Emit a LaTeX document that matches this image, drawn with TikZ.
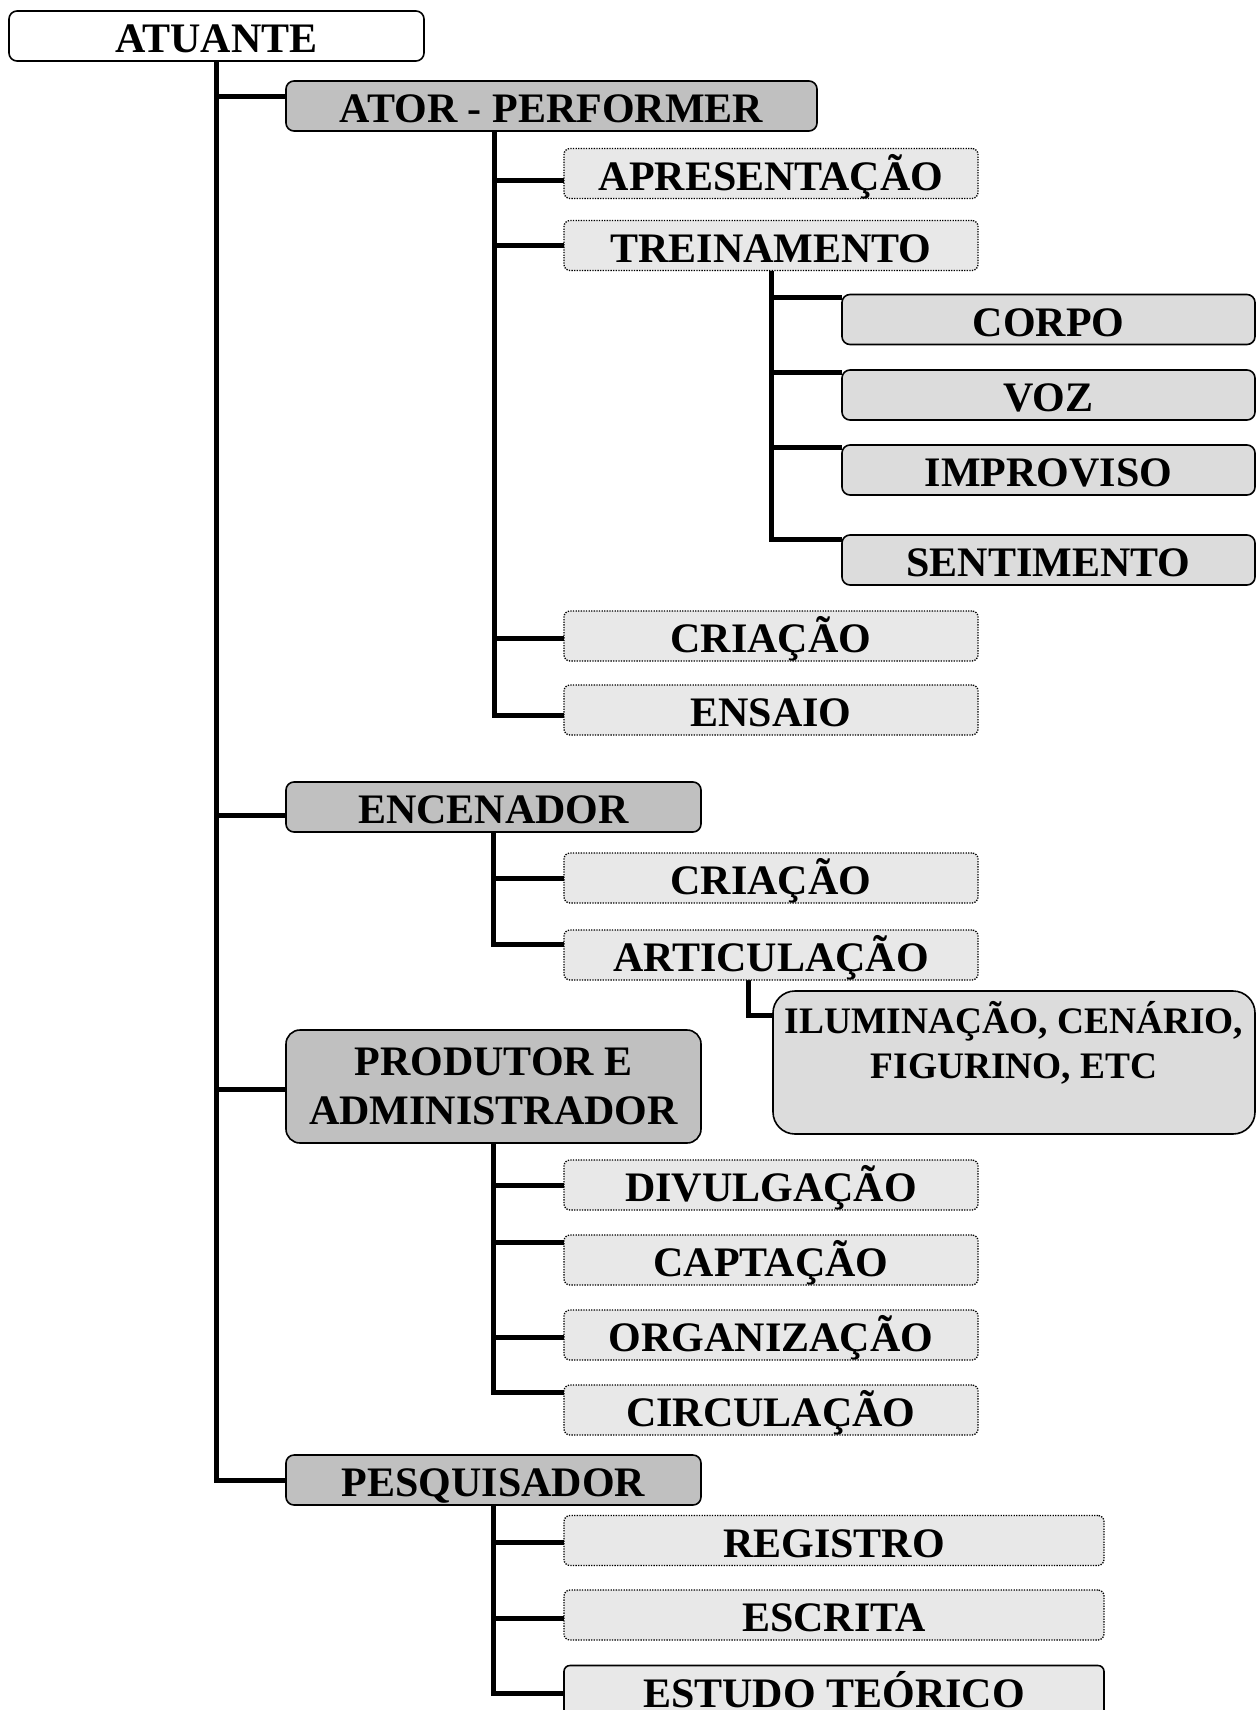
\documentclass[tikz,border=0pt]{standalone}
\usepackage{fontspec}
\setmainfont{Liberation Serif}
\usetikzlibrary{backgrounds}
\definecolor{rolegray}{HTML}{C0C0C0}
\definecolor{taskgray}{HTML}{E8E8E8}
\definecolor{partgray}{HTML}{DCDCDC}
\begin{document}
\begin{tikzpicture}[x=1pt,y=-1pt,
  every node/.style={inner sep=0pt, outer sep=0pt},
  boxbase/.style={draw=black, font=\bfseries\fontsize{42}{49}\selectfont, align=center},
  oneline/.style={text height=33pt, text depth=0pt},
  rootbox/.style={boxbase, oneline, fill=white, line width=1.6pt, rounded corners=8pt,
    minimum height=50pt, minimum width=415pt},
  rolebox/.style={boxbase, fill=rolegray, line width=1.6pt, rounded corners=8pt,
    minimum height=50pt, minimum width=415pt},
  taskbox/.style={boxbase, oneline, fill=taskgray, line width=1.3pt,
    dash pattern=on 1.3pt off 1.3pt, rounded corners=6pt,
    minimum height=50pt, minimum width=414pt},
  partbox/.style={boxbase, oneline, fill=partgray, line width=1.6pt, rounded corners=8pt,
    minimum height=50pt, minimum width=413pt},
  link/.style={line width=5pt, line join=miter, draw=black}
]
\useasboundingbox (0,0) rectangle (1256,1710);

% root
\node[rootbox] (atuante) at (216.5,36) {ATUANTE};

% actor / performer branch
\node[rolebox, oneline, minimum width=531pt] (ator) at (551.5,106) {ATOR - PERFORMER};
\node[taskbox] (apres) at (771,173.5) {APRESENTAÇÃO};
\node[taskbox] (trein) at (771,245.5) {TREINAMENTO};
\node[partbox] (corpo) at (1048.5,319.5) {CORPO};
\node[partbox] (voz) at (1048.5,395) {VOZ};
\node[partbox] (improv) at (1048.5,470) {IMPROVISO};
\node[partbox] (sentim) at (1048.5,560) {SENTIMENTO};
\node[taskbox] (criacaoA) at (771,636) {CRIAÇÃO};
\node[taskbox] (ensaio) at (771,710) {ENSAIO};

% director branch
\node[rolebox, oneline] (encen) at (493.5,807) {ENCENADOR};
\node[taskbox] (criacaoB) at (771,878) {CRIAÇÃO};
\node[taskbox] (artic) at (771,955) {ARTICULAÇÃO};
\node[boxbase, fill=partgray, line width=1.6pt, rounded corners=22pt,
  minimum width=482pt, minimum height=143pt] (ilum) at (1014,1062.5) {};
\node[font=\bfseries\fontsize{37.4}{45}\selectfont, align=center] (ilumtext)
  at (1014,1043) {ILUMINAÇÃO, CENÁRIO,\\FIGURINO, ETC};

% producer branch
\node[rolebox, rounded corners=14pt, minimum height=113pt] (produtor) at (493.5,1086.5)
  {PRODUTOR E\\ADMINISTRADOR};
\node[taskbox] (divulg) at (771,1185) {DIVULGAÇÃO};
\node[taskbox] (capt) at (771,1260) {CAPTAÇÃO};
\node[taskbox] (organiz) at (771,1335) {ORGANIZAÇÃO};
\node[taskbox] (circul) at (771,1410) {CIRCULAÇÃO};

% researcher branch
\node[rolebox, oneline] (pesq) at (493.5,1480) {PESQUISADOR};
\node[taskbox, minimum width=540pt] (registro) at (834,1540.5) {REGISTRO};
\node[taskbox, minimum width=540pt] (escrita) at (834,1615) {ESCRITA};
\node[taskbox, minimum width=540pt, solid, line width=1.6pt] (estudo) at (834,1690.5) {ESTUDO TEÓRICO};

\begin{scope}[on background layer]
  % main trunk
  \draw[link] (atuante.south) |- ([yshift=10pt]ator.west);
  \draw[link] (atuante.south) |- ([yshift=-8pt]encen.west);
  \draw[link] (atuante.south) |- ([yshift=-3pt]produtor.west);
  \draw[link] (atuante.south) |- (pesq.west);
  % actor tasks
  \coordinate (atorstem) at ([xshift=-57.5pt]ator.south);
  \draw[link] (atorstem) |- ([yshift=-7pt]apres.west);
  \draw[link] (atorstem) |- (trein.west);
  \draw[link] (atorstem) |- ([yshift=-2pt]criacaoA.west);
  \draw[link] (atorstem) |- ([yshift=-5pt]ensaio.west);
  % training parts
  \draw[link] (trein.south) |- ([yshift=-3pt]corpo.north west);
  \draw[link] (trein.south) |- ([yshift=-2pt]voz.north west);
  \draw[link] (trein.south) |- ([yshift=-2pt]improv.north west);
  \draw[link] (trein.south) |- ([yshift=-4pt]sentim.north west);
  % director tasks
  \draw[link] (encen.south) |- (criacaoB.west);
  \draw[link] (encen.south) |- ([yshift=11pt]artic.west);
  \draw[link] ([xshift=-23pt]artic.south) |- ([yshift=-24pt]ilum.north west);
  % producer tasks
  \draw[link] (produtor.south) |- (divulg.west);
  \draw[link] (produtor.south) |- ([yshift=18pt]capt.west);
  \draw[link] (produtor.south) |- ([yshift=-2pt]organiz.west);
  \draw[link] (produtor.south) |- ([yshift=18pt]circul.west);
  % researcher tasks
  \draw[link] (pesq.south) |- ([yshift=-2pt]registro.west);
  \draw[link] (pesq.south) |- ([yshift=-3pt]escrita.west);
  \draw[link] (pesq.south) |- ([yshift=-3pt]estudo.west);
\end{scope}
\end{tikzpicture}
\end{document}
